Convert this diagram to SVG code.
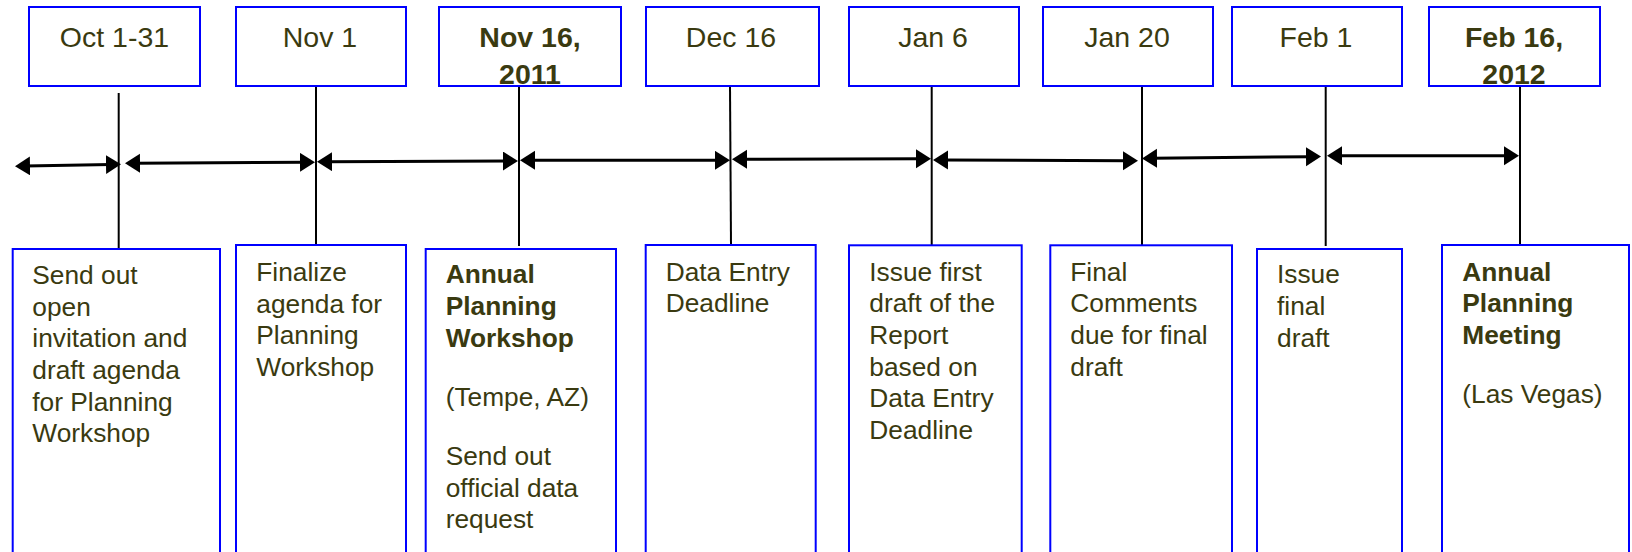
<svg xmlns="http://www.w3.org/2000/svg" width="1632" height="552" viewBox="0 0 1632 552">
<style>
.box{fill:#fff;stroke:#0000ff;stroke-width:2}
.date{font-family:"Liberation Sans",Arial,sans-serif;font-size:28.5px;fill:#3a3a10;text-anchor:middle}
.b{font-weight:bold}
.desc{font-family:"Liberation Sans",Arial,sans-serif;font-size:26.3px;fill:#3a3a10}
.vl{stroke:#000;stroke-width:2;fill:none}
.ar{stroke:#000;stroke-width:3;fill:none;marker-start:url(#ah);marker-end:url(#ah)}
</style>
<defs>
<marker id="ah" markerUnits="userSpaceOnUse" markerWidth="17" markerHeight="21" refX="5" refY="9.5" orient="auto-start-reverse">
<path d="M0,0 L15,9.5 L0,19 z" fill="#000"/>
</marker>
</defs>
<g id="connectors">
<line class="vl" x1="118.7" y1="93" x2="118.7" y2="249"/>
<line class="vl" x1="316" y1="86" x2="316" y2="249"/>
<line class="vl" x1="519" y1="86" x2="519" y2="246"/>
<line class="vl" x1="730" y1="86" x2="731" y2="246"/>
<line class="vl" x1="931.7" y1="86" x2="931.7" y2="245"/>
<line class="vl" x1="1142" y1="86" x2="1142" y2="245"/>
<line class="vl" x1="1325.7" y1="86" x2="1325.7" y2="246"/>
<line class="vl" x1="1520" y1="86" x2="1520" y2="245"/>
<line class="ar" x1="25" y1="166" x2="111" y2="164.5"/>
<line class="ar" x1="135" y1="163.3" x2="305" y2="162.3"/>
<line class="ar" x1="327" y1="161.7" x2="508" y2="161"/>
<line class="ar" x1="530" y1="160.3" x2="720" y2="160.3"/>
<line class="ar" x1="742" y1="159.3" x2="921" y2="158.7"/>
<line class="ar" x1="943" y1="160" x2="1128" y2="160.7"/>
<line class="ar" x1="1152" y1="158.3" x2="1311" y2="156.7"/>
<line class="ar" x1="1337" y1="155.7" x2="1509" y2="155.7"/>
</g>
<g id="d1"><rect class="box" x="29" y="7" width="171" height="79"/><text class="date" x="114.5" y="47">Oct 1-31</text></g>
<g id="d2"><rect class="box" x="236" y="7" width="170" height="79"/><text class="date" x="320" y="47">Nov 1</text></g>
<g id="d3"><rect class="box" x="439" y="7" width="182" height="79"/><text class="date b" x="530" y="47">Nov 16,</text><text class="date b" x="530" y="84">2011</text></g>
<g id="d4"><rect class="box" x="646" y="7" width="173" height="79"/><text class="date" x="731" y="47">Dec 16</text></g>
<g id="d5"><rect class="box" x="849" y="7" width="170" height="79"/><text class="date" x="933" y="47">Jan 6</text></g>
<g id="d6"><rect class="box" x="1043" y="7" width="170" height="79"/><text class="date" x="1127" y="47">Jan 20</text></g>
<g id="d7"><rect class="box" x="1232" y="7" width="170" height="79"/><text class="date" x="1316" y="47">Feb 1</text></g>
<g id="d8"><rect class="box" x="1429" y="7" width="171" height="79"/><text class="date b" x="1514" y="47">Feb 16,</text><text class="date b" x="1514" y="84">2012</text></g>
<g id="e1"><rect class="box" x="12.7" y="249" width="207.3" height="320"/>
<text class="desc"><tspan x="32.3" y="284">Send out</tspan><tspan x="32.3" y="315.7">open</tspan><tspan x="32.3" y="347.3">invitation and</tspan><tspan x="32.3" y="379">draft agenda</tspan><tspan x="32.3" y="410.7">for Planning</tspan><tspan x="32.3" y="442.3">Workshop</tspan></text></g>
<g id="e2"><rect class="box" x="236" y="245" width="170" height="320"/>
<text class="desc"><tspan x="256.3" y="281">Finalize</tspan><tspan x="256.3" y="312.7">agenda for</tspan><tspan x="256.3" y="344.3">Planning</tspan><tspan x="256.3" y="376">Workshop</tspan></text></g>
<g id="e3"><rect class="box" x="425.7" y="249" width="190.3" height="320"/>
<text class="desc b"><tspan x="445.7" y="283.3">Annual</tspan><tspan x="445.7" y="315.3">Planning</tspan><tspan x="445.7" y="347.3">Workshop</tspan></text>
<text class="desc"><tspan x="445.7" y="405.7">(Tempe, AZ)</tspan><tspan x="445.7" y="465">Send out</tspan><tspan x="445.7" y="496.7">official data</tspan><tspan x="445.7" y="528.3">request</tspan></text></g>
<g id="e4"><rect class="box" x="645.7" y="245" width="170" height="320"/>
<text class="desc"><tspan x="665.7" y="280.7">Data Entry</tspan><tspan x="665.7" y="312.3">Deadline</tspan></text></g>
<g id="e5"><rect class="box" x="849" y="245.3" width="172.7" height="320"/>
<text class="desc"><tspan x="869.3" y="280.7">Issue first</tspan><tspan x="869.3" y="312.3">draft of the</tspan><tspan x="869.3" y="344">Report</tspan><tspan x="869.3" y="375.7">based on</tspan><tspan x="869.3" y="407.3">Data Entry</tspan><tspan x="869.3" y="439">Deadline</tspan></text></g>
<g id="e6"><rect class="box" x="1050.3" y="245.3" width="181.7" height="320"/>
<text class="desc"><tspan x="1070.3" y="280.7">Final</tspan><tspan x="1070.3" y="312.3">Comments</tspan><tspan x="1070.3" y="344">due for final</tspan><tspan x="1070.3" y="375.7">draft</tspan></text></g>
<g id="e7"><rect class="box" x="1257" y="249" width="145" height="320"/>
<text class="desc"><tspan x="1277" y="283.3">Issue</tspan><tspan x="1277" y="315">final</tspan><tspan x="1277" y="346.7">draft</tspan></text></g>
<g id="e8"><rect class="box" x="1442" y="245" width="187" height="320"/>
<text class="desc b"><tspan x="1462.3" y="280.7">Annual</tspan><tspan x="1462.3" y="312.3">Planning</tspan><tspan x="1462.3" y="344">Meeting</tspan></text>
<text class="desc"><tspan x="1462.3" y="403.3">(Las Vegas)</tspan></text></g>
</svg>
